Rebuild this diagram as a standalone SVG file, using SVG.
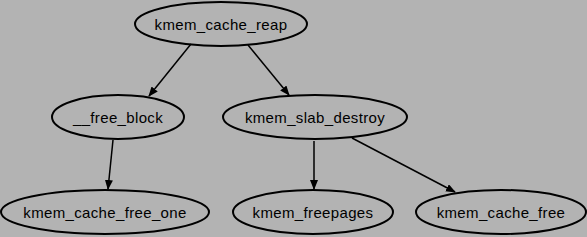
<svg xmlns="http://www.w3.org/2000/svg" width="587" height="237" viewBox="0 0 587 237">
<defs>
<marker id="ah" markerWidth="10" markerHeight="8" refX="9" refY="4" orient="auto" markerUnits="userSpaceOnUse">
<path d="M0,0 L10,4 L0,8 Z" fill="#000"/>
</marker>
<style>
.n ellipse{fill:none;stroke:#000;stroke-width:2}
.n text{font-family:"Liberation Sans",Arial,sans-serif;font-size:15px;letter-spacing:0.35px;fill:#000;text-anchor:middle}
.e line{stroke:#000;stroke-width:1.5;marker-end:url(#ah)}
</style>
</defs>
<rect width="587" height="237" fill="#b3b3b3"/>
<g class="e" id="edges">
<line x1="191" y1="44" x2="149" y2="96"/>
<line x1="248" y1="45" x2="289" y2="95"/>
<line x1="113" y1="140" x2="108" y2="189"/>
<line x1="314" y1="141" x2="314" y2="189"/>
<line x1="352" y1="138" x2="455" y2="192"/>
</g>
<g class="n" id="kmem_cache_reap"><ellipse cx="221" cy="24" rx="86" ry="22"/><text x="221" y="30">kmem_cache_reap</text></g>
<g class="n" id="free_block"><ellipse cx="118" cy="117" rx="66" ry="22"/><text x="118" y="123">__free_block</text></g>
<g class="n" id="kmem_slab_destroy"><ellipse cx="315" cy="117" rx="92" ry="22"/><text x="315" y="123">kmem_slab_destroy</text></g>
<g class="n" id="kmem_cache_free_one"><ellipse cx="105" cy="212" rx="104" ry="22"/><text x="105" y="218">kmem_cache_free_one</text></g>
<g class="n" id="kmem_freepages"><ellipse cx="313" cy="212" rx="80" ry="22"/><text x="313" y="218">kmem_freepages</text></g>
<g class="n" id="kmem_cache_free"><ellipse cx="501" cy="212" rx="85" ry="22"/><text x="501" y="218">kmem_cache_free</text></g>
</svg>
